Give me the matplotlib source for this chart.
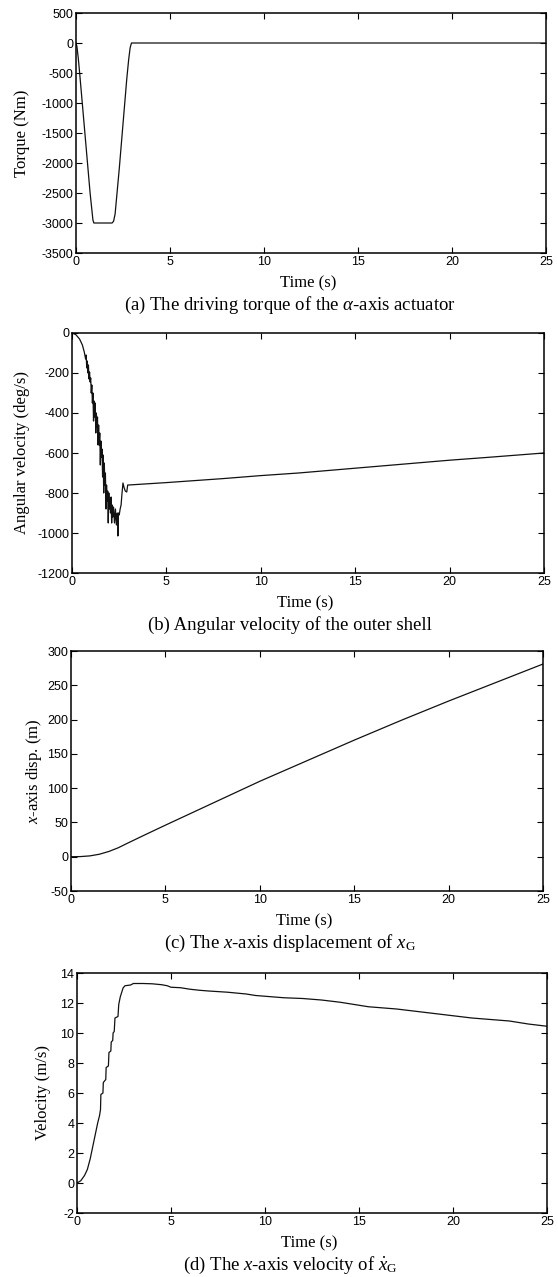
import numpy as np
import matplotlib
matplotlib.use("Agg")
from matplotlib import pyplot as plt

plt.rcParams['font.family'] = ['Liberation Sans', 'DejaVu Sans']
plt.rcParams['axes.unicode_minus'] = False
plt.rcParams['mathtext.fontset'] = 'custom'
plt.rcParams['mathtext.rm'] = 'Liberation Serif'
plt.rcParams['mathtext.it'] = 'Liberation Serif:italic'

# (a) driving torque of the alpha-axis actuator
t_torque = [0, 0.05, 0.12, 0.2, 0.5, 0.75, 0.9, 0.95, 1.92, 2.0, 2.08, 2.3, 2.5,
            2.7, 2.8, 2.88, 2.95, 25]
torque = [0, -60, -250, -520, -1600, -2500, -2950, -3000, -3000, -2970, -2850,
          -2100, -1350, -600, -280, -80, 0, 0]

# (b) angular velocity of the outer shell
t_omega = [0, 0.2, 0.4, 0.55, 0.65, 0.72,
           0.75, 0.78, 0.81, 0.84, 0.87, 0.90, 0.93, 0.96, 0.99, 1.02,
           1.05, 1.08, 1.11, 1.14, 1.17, 1.20, 1.23, 1.26, 1.29, 1.32,
           1.35, 1.38, 1.41, 1.44, 1.47, 1.50, 1.53, 1.56, 1.59, 1.62,
           1.65, 1.68, 1.71, 1.74, 1.77, 1.80, 1.83, 1.86, 1.89, 1.92,
           1.95, 1.98, 2.01, 2.04, 2.07, 2.10, 2.13, 2.16, 2.20, 2.25,
           2.30, 2.35, 2.40, 2.43, 2.46, 2.50, 2.55, 2.60, 2.65, 2.70,
           2.75, 2.82, 2.90, 2.95,
           3.0, 5, 8, 10, 12, 15, 18, 20, 22, 25]
omega = [0, -8, -30, -60, -95, -130,
         -110, -175, -140, -200, -160, -230, -195, -245, -225, -300,
         -260, -350, -300, -440, -340, -420, -350, -500, -400, -470,
         -420, -560, -460, -560, -500, -660, -540, -620, -580, -720,
         -610, -800, -650, -760, -700, -880, -760, -840, -790, -950,
         -800, -880, -830, -900, -820, -950, -860, -920, -870, -950,
         -880, -960, -900, -1015, -900, -910, -880, -860, -800, -750,
         -770, -790, -795, -760,
         -760, -748, -728, -713, -700, -676, -652, -636, -622, -600]

# (c) x-axis displacement of x_G
t_disp = [0, 0.5, 1, 1.5, 2, 2.5, 3, 4, 5, 7.5, 10, 12.5, 15, 17.5, 20, 22.5, 25]
disp = [0, 0.2, 1.2, 3.6, 7.6, 13, 19.8, 33, 46, 78, 110, 140, 170, 199, 227, 254, 281]

# (d) x-axis velocity of x_G dot
t_vel = [0, 0.2, 0.4, 0.55, 0.7, 0.8, 0.9, 1.0, 1.1, 1.2, 1.25, 1.27, 1.38, 1.40,
         1.53, 1.55, 1.67, 1.70, 1.80, 1.82, 1.90, 1.92, 1.98, 2.02, 2.18, 2.22,
         2.3, 2.45, 2.55, 2.85, 3.0, 3.5, 4.0, 4.5, 4.8, 5.0, 5.5, 6.0, 6.5, 7.0,
         8.0, 9.0, 9.5, 10.0, 11.0, 12.0, 13.0, 14.0, 15.0, 15.5, 16.0, 17.0,
         18.0, 19.0, 20.0, 21.0, 22.0, 23.0, 24.0, 25.0]
vel = [0, 0.15, 0.5, 0.9, 1.6, 2.2, 2.8, 3.4, 4.0, 4.5, 4.9, 5.9, 6.0, 6.7,
       6.9, 7.7, 7.8, 8.7, 8.8, 9.4, 9.5, 10.0, 10.1, 11.0, 11.1, 11.9,
       12.4, 13.0, 13.15, 13.2, 13.3, 13.3, 13.28, 13.22, 13.15, 13.05, 13.02,
       12.92, 12.85, 12.8, 12.72, 12.6, 12.5, 12.45, 12.35, 12.3, 12.2, 12.05,
       11.85, 11.75, 11.7, 11.6, 11.45, 11.3, 11.15, 11.0, 10.9, 10.8, 10.6, 10.45]

W, H = 558, 1277
fig = plt.figure(figsize=(W / 100, H / 100), dpi=100)

panels = [
    # left, right, top, bottom (pixels), ylabel x (pixels)
    dict(box=(76, 546, 13, 253), ylx=22, t=t_torque, y=torque,
         ylim=(-3500, 500), yt=np.arange(-3500, 501, 500),
         ylabel='Torque (Nm)',
         cap=r'(a) The driving torque of the $\alpha$-axis actuator'),
    dict(box=(72, 544, 333, 573), ylx=22, t=t_omega, y=omega,
         ylim=(-1200, 0), yt=np.arange(-1200, 1, 200),
         ylabel='Angular velocity (deg/s)',
         cap='(b) Angular velocity of the outer shell'),
    dict(box=(71, 543, 651, 891), ylx=34, t=t_disp, y=disp,
         ylim=(-50, 300), yt=np.arange(-50, 301, 50),
         ylabel=r'$x$-axis disp. (m)',
         cap=r'(c) The $x$-axis displacement of $x_{\mathrm{G}}$'),
    dict(box=(77, 547, 973, 1213), ylx=43, t=t_vel, y=vel,
         ylim=(-2, 14), yt=np.arange(-2, 15, 2),
         ylabel='Velocity (m/s)',
         cap=r'(d) The $x$-axis velocity of $\dot{x}_{\mathrm{G}}$'),
]

for p in panels:
    l, r, top, b = p['box']
    ax = fig.add_axes([l / W, 1 - b / H, (r - l) / W, (b - top) / H])
    ax.plot(p['t'], p['y'], color='#111111', lw=0.9)
    ax.set_xlim(0, 25)
    ax.set_ylim(*p['ylim'])
    ax.set_xticks([0, 5, 10, 15, 20, 25])
    ax.set_yticks(p['yt'])
    ax.tick_params(direction='in', top=True, right=True, length=4, width=0.8,
                   labelsize=9, pad=2, colors='black')
    for s in ax.spines.values():
        s.set_linewidth(1.1)
    ax.set_xlabel('Time (s)', family='Liberation Serif', fontsize=12)
    ax.xaxis.set_label_coords(0.5 - 3 / (r - l), -30 / (b - top))
    ax.xaxis.label.set_va('center')
    ax.set_ylabel(p['ylabel'], family='Liberation Serif', fontsize=12)
    ax.yaxis.set_label_coords((p['ylx'] - l) / (r - l), 0.5)
    ax.yaxis.label.set_va('center')
    fig.text(290 / W, 1 - (b + 52) / H, p['cap'], family='Liberation Serif',
             fontsize=13.5, ha='center', va='center')

fig.savefig('out.png', dpi=100)
